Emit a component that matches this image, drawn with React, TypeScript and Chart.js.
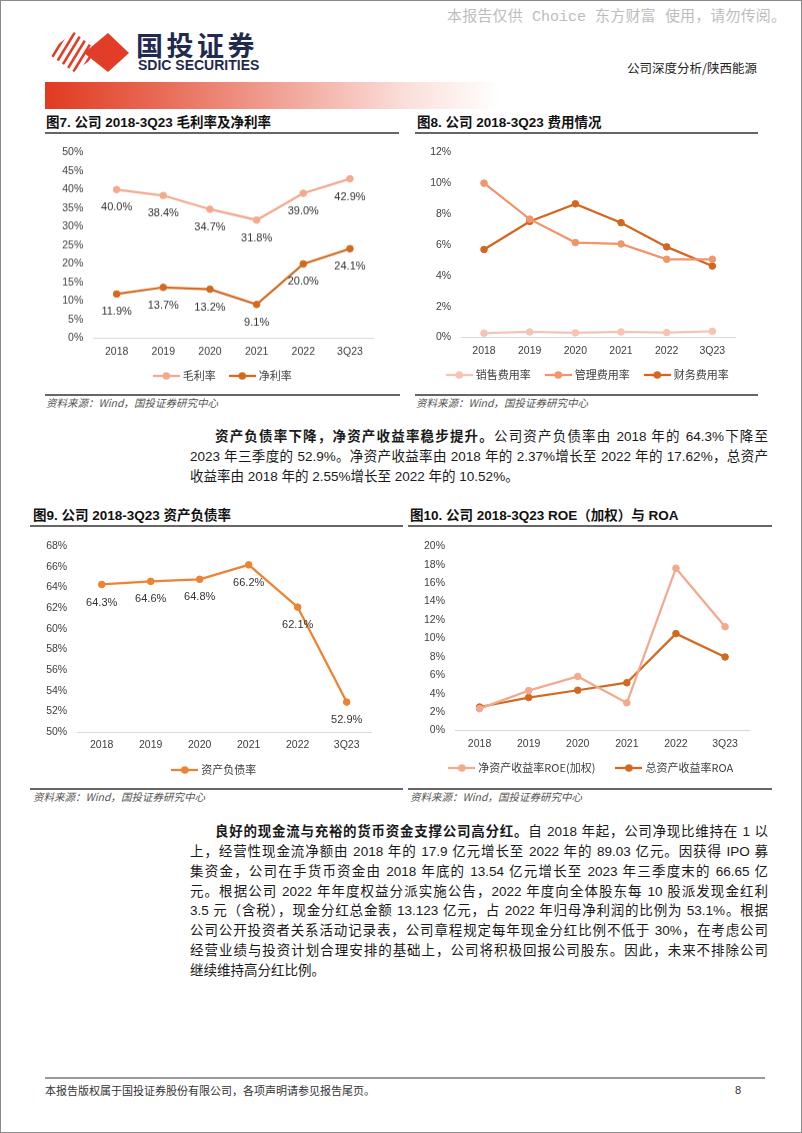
import React, { useEffect, useRef } from 'react';
import { Chart, registerables } from 'chart.js';

Chart.register(...registerables);

// ---------------- data ----------------
const categories = ['2018', '2019', '2020', '2021', '2022', '3Q23'];

const grossMargin = [40.0, 38.4, 34.7, 31.8, 39.0, 42.9];
const netMargin = [11.9, 13.7, 13.2, 9.1, 20.0, 24.1];

const salesExpenseRate = [0.28, 0.36, 0.3, 0.36, 0.32, 0.4];
const adminExpenseRate = [10.0, 7.67, 6.15, 6.06, 5.07, 5.07];
const financeExpenseRate = [5.7, 7.52, 8.66, 7.44, 5.87, 4.63];

const debtRatio = [64.3, 64.6, 64.8, 66.2, 62.1, 52.9];

const roeWeighted = [2.37, 4.33, 5.87, 3.0, 17.62, 11.27];
const roa = [2.55, 3.58, 4.37, 5.19, 10.52, 7.98];

const chart7Labels = ['毛利率', '净利率'];
const chart8Labels = ['销售费用率', '管理费用率', '财务费用率'];
const chart9Labels = ['资产负债率'];
const chart10Labels = ['净资产收益率ROE(加权)', '总资产收益率ROA'];

// ---------------- styles ----------------
const LATIN = "'Liberation Sans', Arial, 'Noto Sans CJK SC', sans-serif";
const CJK = "'Noto Sans CJK SC', 'Liberation Sans', sans-serif";
const BODY = "'Liberation Sans Narrow', 'Liberation Sans', 'Noto Sans CJK SC', sans-serif";
const TICK_COLOR = '#404040';

type Series = { label: string; data: number[]; color: string };
type Spec = {
  box: { L: number; T: number; W: number };
  plot: { left: number; right: number; top: number; bottom: number };
  legendCX: number;
  legendCY: number;
  legendPad: number;
  yMin: number;
  yMax: number;
  yStep: number;
  series: Series[];
  valueLabels: boolean;
};

const LEGEND_FS = 11;
const X_AXIS_H = 22;

function canvasHeight(spec: Spec) {
  return spec.plot.bottom - spec.box.T + X_AXIS_H + (LEGEND_FS + spec.legendPad + 10) + 2;
}

function makeMarker(color: string) {
  const c = document.createElement('canvas');
  c.width = 27;
  c.height = 10;
  const g = c.getContext('2d')!;
  g.strokeStyle = color;
  g.lineWidth = 2.25;
  g.beginPath();
  g.moveTo(0, 5);
  g.lineTo(27, 5);
  g.stroke();
  g.fillStyle = color;
  g.beginPath();
  g.arc(13.5, 5, 3.8, 0, Math.PI * 2);
  g.fill();
  return c;
}

function LineChart({ spec }: { spec: Spec }) {
  const ref = useRef<HTMLCanvasElement>(null);
  const H = canvasHeight(spec);
  useEffect(() => {
    const { box, plot } = spec;
    const fs = LEGEND_FS;
    const P = spec.legendPad;
    const padRight = box.L + box.W - plot.right;
    const yWidth = plot.left - box.L;
    const padTop = plot.top - box.T;
    const legendH = fs + P + 10;
    const padBottom = H - (plot.bottom - box.T) - X_AXIS_H - legendH;
    const markers = spec.series.map((s) => makeMarker(s.color));

    const valueLabelPlugin = {
      id: 'valueLabels',
      afterDatasetsDraw(chart: any) {
        if (!spec.valueLabels) return;
        const ctx = chart.ctx;
        ctx.save();
        ctx.font = `11px ${LATIN}`;
        ctx.fillStyle = '#333333';
        ctx.textAlign = 'center';
        ctx.textBaseline = 'middle';
        chart.data.datasets.forEach((ds: any, i: number) => {
          const meta = chart.getDatasetMeta(i);
          meta.data.forEach((pt: any, j: number) => {
            ctx.fillText(Number(ds.data[j]).toFixed(1) + '%', pt.x, pt.y + 18);
          });
        });
        ctx.restore();
      },
    };

    const legendPlacer = {
      id: 'legendPlacer',
      afterLayout(chart: any) {
        const lg = chart.legend;
        if (!lg) return;
        const w = lg.width;
        const h = lg.height;
        const cx = spec.legendCX - box.L;
        lg.left = cx - w / 2;
        lg.right = cx + w / 2;
        lg.top = spec.legendCY - box.T - P - fs / 2;
        lg.bottom = lg.top + h;
      },
    };

    const chart = new Chart(ref.current!, {
      type: 'line',
      data: {
        labels: categories,
        datasets: spec.series.map((s) => ({
          label: s.label,
          data: s.data,
          borderColor: s.color,
          backgroundColor: s.color,
          pointBackgroundColor: s.color,
          pointBorderColor: s.color,
          pointRadius: 3.3,
          pointBorderWidth: 1,
          borderWidth: 2.25,
          tension: 0,
          fill: false,
        })),
      },
      options: {
        responsive: false,
        animation: false,
        devicePixelRatio: 1,
        events: [],
        layout: { padding: { left: 0, right: padRight, top: padTop, bottom: padBottom } },
        scales: {
          x: {
            offset: true,
            grid: { display: false, drawTicks: false },
            border: { display: true, color: '#d9d9d9', width: 1 },
            ticks: {
              color: TICK_COLOR,
              font: { family: LATIN, size: 10.5 },
              padding: 7,
              maxRotation: 0,
              autoSkip: false,
            },
            afterFit: (s: any) => {
              s.height = X_AXIS_H;
            },
          },
          y: {
            min: spec.yMin,
            max: spec.yMax,
            ticks: {
              stepSize: spec.yStep,
              color: TICK_COLOR,
              font: { family: LATIN, size: 10.5 },
              padding: 10,
              callback: (v: any) => `${v}%`,
            },
            grid: { display: false, drawTicks: false },
            border: { display: false },
            afterFit: (s: any) => {
              s.width = yWidth;
            },
          },
        },
        plugins: {
          legend: {
            position: 'bottom',
            labels: {
              usePointStyle: true,
              pointStyleWidth: 22,
              padding: P,
              color: '#404040',
              font: { family: CJK, size: fs },
              generateLabels: (c: any) => {
                const items = (Chart.defaults.plugins.legend.labels as any).generateLabels(c);
                return items.map((it: any, i: number) => ({ ...it, pointStyle: markers[i], fontColor: '#404040' }));
              },
            },
          },
          tooltip: { enabled: false },
        },
      } as any,
      plugins: [valueLabelPlugin, legendPlacer],
    });
    return () => chart.destroy();
  }, [spec, H]);
  return (
    <canvas
      ref={ref}
      width={spec.box.W}
      height={H}
      style={{ position: 'absolute', left: spec.box.L, top: spec.box.T, width: spec.box.W, height: H }}
    />
  );
}

const spec7: Spec = {
  box: { L: 40, T: 136, W: 360 },
  plot: { left: 93.3, right: 373.3, top: 146.7, bottom: 338 },
  legendCX: 223.5,
  legendCY: 375,
  legendPad: 15.5,
  yMin: 0,
  yMax: 50,
  yStep: 5,
  series: [
    { label: chart7Labels[0], data: grossMargin, color: '#F3A98E' },
    { label: chart7Labels[1], data: netMargin, color: '#D3691F' },
  ],
  valueLabels: true,
};

const spec8: Spec = {
  box: { L: 410, T: 136, W: 350 },
  plot: { left: 461.2, right: 735.2, top: 148.3, bottom: 337.7 },
  legendCX: 588.5,
  legendCY: 375,
  legendPad: 16.5,
  yMin: 0,
  yMax: 12,
  yStep: 2,
  series: [
    { label: chart8Labels[0], data: salesExpenseRate, color: '#F6C4B3' },
    { label: chart8Labels[1], data: adminExpenseRate, color: '#F0956C' },
    { label: chart8Labels[2], data: financeExpenseRate, color: '#D4661E' },
  ],
  valueLabels: false,
};

const spec9: Spec = {
  box: { L: 25, T: 530, W: 375 },
  plot: { left: 77.2, right: 371.2, top: 542.7, bottom: 732.3 },
  legendCX: 215,
  legendCY: 770,
  legendPad: 10,
  yMin: 50,
  yMax: 68,
  yStep: 2,
  series: [{ label: chart9Labels[0], data: debtRatio, color: '#EE8232' }],
  valueLabels: true,
};

const spec10: Spec = {
  box: { L: 400, T: 530, W: 372 },
  plot: { left: 455, right: 749.6, top: 544.3, bottom: 730.7 },
  legendCX: 592,
  legendCY: 768,
  legendPad: 22.5,
  yMin: 0,
  yMax: 20,
  yStep: 2,
  series: [
    { label: chart10Labels[0], data: roeWeighted, color: '#F3A98E' },
    { label: chart10Labels[1], data: roa, color: '#D3691F' },
  ],
  valueLabels: false,
};

const abs = (s: React.CSSProperties): React.CSSProperties => ({ position: 'absolute', ...s });

function Title({ x, y, text }: { x: number; y: number; text: string }) {
  return (
    <div
      style={abs({
        left: x,
        top: y - 8,
        height: 16,
        lineHeight: '16px',
        fontSize: 13.5,
        fontWeight: 'bold',
        fontFamily: LATIN,
        color: '#111',
        whiteSpace: 'nowrap',
      })}
    >
      {text}
    </div>
  );
}

function Rule({ x1, x2, y, h = 1.5, color = '#666' }: { x1: number; x2: number; y: number; h?: number; color?: string }) {
  return <div style={abs({ left: x1, top: y - h / 2, width: x2 - x1, height: h, background: color })} />;
}

function Source({ x, y }: { x: number; y: number }) {
  return (
    <div
      style={abs({
        left: x,
        top: y - 7,
        height: 14,
        lineHeight: '14px',
        fontSize: 10.5,
        fontStyle: 'italic',
        fontFamily: CJK,
        color: '#555',
        whiteSpace: 'nowrap',
      })}
    >
      资料来源：Wind，国投证券研究中心
    </div>
  );
}

function TextLine({ cy, indent = 0, last = false, children }: { cy: number; indent?: number; last?: boolean; children: React.ReactNode }) {
  return (
    <div
      style={abs({
        left: 190 + indent,
        top: cy - 10,
        width: 578 - indent,
        height: 20,
        lineHeight: '20px',
        fontSize: 13.5,
        fontFamily: BODY,
        color: '#1a1a1a',
        textAlign: last ? 'left' : 'justify',
        textAlignLast: last ? 'left' : 'justify',
        overflow: 'visible',
      })}
    >
      {children}
    </div>
  );
}

const para2Lines = [
  '上，经营性现金流净额由 2018 年的 17.9 亿元增长至 2022 年的 89.03 亿元。因获得 IPO 募',
  '集资金，公司在手货币资金由 2018 年底的 13.54 亿元增长至 2023 年三季度末的 66.65 亿',
  '元。根据公司 2022 年年度权益分派实施公告，2022 年度向全体股东每 10 股派发现金红利',
  '3.5 元（含税），现金分红总金额 13.123 亿元，占 2022 年归母净利润的比例为 53.1%。根据',
  '公司公开投资者关系活动记录表，公司章程规定每年现金分红比例不低于 30%，在考虑公司',
  '经营业绩与投资计划合理安排的基础上，公司将积极回报公司股东。因此，未来不排除公司',
  '继续维持高分红比例。',
];

function Logo() {
  const stripes = [0, 1, 2, 3, 4, 5];
  return (
    <>
      <svg style={abs({ left: 40, top: 26, width: 100, height: 52 })} width={100} height={52} viewBox="0 0 100 52">
        <defs>
          <clipPath id="stripeClip">
            <polygon points="7,27 34,6 60,27 34,46" />
          </clipPath>
        </defs>
        <g clipPath="url(#stripeClip)" stroke="#E23D28" strokeWidth={2.6}>
          {stripes.map((i) => (
            <line key={i} x1={2 + i * 7.5} y1={48} x2={30 + i * 7.5} y2={2} />
          ))}
        </g>
        <polygon points="44,27 68,7 89,27 68,46" fill="#E23D28" />
      </svg>
      <div
        style={abs({
          left: 136,
          top: 30,
          fontSize: 27,
          lineHeight: '29px',
          fontWeight: 'bold',
          fontFamily: CJK,
          color: '#1F2A4E',
          letterSpacing: 3.5,
          whiteSpace: 'nowrap',
        })}
      >
        国投证券
      </div>
      <div
        style={abs({
          left: 138,
          top: 58,
          fontSize: 14,
          lineHeight: '14px',
          fontWeight: 'bold',
          fontFamily: "'Liberation Sans', sans-serif",
          color: '#1F2A4E',
          whiteSpace: 'nowrap',
        })}
      >
        SDIC SECURITIES
      </div>
    </>
  );
}

export default function App() {
  return (
    <div
      style={{
        position: 'absolute',
        left: 0,
        top: 0,
        width: 802,
        height: 1133,
        overflow: 'hidden',
        background: '#fff',
      }}
    >
      {/* watermark */}
      <div
        style={abs({
          left: 447,
          top: 9,
          width: 339,
          height: 18,
          lineHeight: '18px',
          fontSize: 15,
          fontFamily: "'Liberation Mono', 'Noto Sans CJK SC', monospace",
          color: '#bdbdbd',
          textAlign: 'justify',
          textAlignLast: 'justify',
        })}
      >
        本报告仅供 Choice 东方财富 使用，请勿传阅。
      </div>
      <Logo />
      <div
        style={abs({
          left: 627,
          top: 60,
          height: 16,
          lineHeight: '16px',
          fontSize: 12.5,
          fontFamily: CJK,
          color: '#222',
          whiteSpace: 'nowrap',
        })}
      >
        公司深度分析/陕西能源
      </div>
      <div
        style={abs({
          left: 45,
          top: 82,
          width: 455,
          height: 27,
          background: 'linear-gradient(to right, #E03A20 0%, #E86A55 25%, #F2A99E 55%, #FBE0DB 80%, #FFFFFF 100%)',
        })}
      />

      {/* chart 7 */}
      <Title x={46} y={122.5} text="图7. 公司 2018-3Q23 毛利率及净利率" />
      <Rule x1={45} x2={399} y={132.7} h={2} />
      <Rule x1={45} x2={400} y={395} />
      <Source x={46} y={403} />
      <LineChart spec={spec7} />

      {/* chart 8 */}
      <Title x={417} y={122.5} text="图8. 公司 2018-3Q23 费用情况" />
      <Rule x1={415} x2={758} y={132.7} h={2} />
      <Rule x1={415} x2={758} y={395} />
      <Source x={416} y={403} />
      <LineChart spec={spec8} />

      {/* paragraph 1 */}
      <TextLine cy={437} indent={25}>
        <b>资产负债率下降，净资产收益率稳步提升。</b>公司资产负债率由 2018 年的 64.3%下降至
      </TextLine>
      <TextLine cy={457}>2023 年三季度的 52.9%。净资产收益率由 2018 年的 2.37%增长至 2022 年的 17.62%，总资产</TextLine>
      <TextLine cy={477} last>
        收益率由 2018 年的 2.55%增长至 2022 年的 10.52%。
      </TextLine>

      {/* chart 9 */}
      <Title x={33} y={516} text="图9. 公司 2018-3Q23 资产负债率" />
      <Rule x1={30} x2={403} y={526} h={2} />
      <Rule x1={30} x2={403} y={789} />
      <Source x={33} y={797} />
      <LineChart spec={spec9} />

      {/* chart 10 */}
      <Title x={410} y={516} text="图10. 公司 2018-3Q23 ROE（加权）与 ROA" />
      <Rule x1={408} x2={772} y={526} h={2} />
      <Rule x1={408} x2={772} y={789} />
      <Source x={410} y={797} />
      <LineChart spec={spec10} />

      {/* paragraph 2 */}
      <TextLine cy={832} indent={25}>
        <b>良好的现金流与充裕的货币资金支撑公司高分红。</b>自 2018 年起，公司净现比维持在 1 以
      </TextLine>
      {para2Lines.map((t, i) => (
        <TextLine key={i} cy={852 + i * 19.8} last={i === para2Lines.length - 1}>
          {t}
        </TextLine>
      ))}

      {/* footer */}
      <Rule x1={45} x2={765} y={1078} h={1.5} color="#9a9a9a" />
      <div
        style={abs({
          left: 45,
          top: 1082,
          height: 16,
          lineHeight: '16px',
          fontSize: 11,
          fontFamily: CJK,
          color: '#333',
          whiteSpace: 'nowrap',
        })}
      >
        本报告版权属于国投证券股份有限公司，各项声明请参见报告尾页。
      </div>
      <div style={abs({ left: 735, top: 1082, height: 16, lineHeight: '16px', fontSize: 11, fontFamily: LATIN, color: '#333' })}>
        8
      </div>

      {/* page frame */}
      <div
        style={abs({
          left: 0,
          top: 0,
          width: 802,
          height: 1133,
          boxSizing: 'border-box',
          border: '1px solid #8a8a8a',
          pointerEvents: 'none',
        })}
      />
    </div>
  );
}
